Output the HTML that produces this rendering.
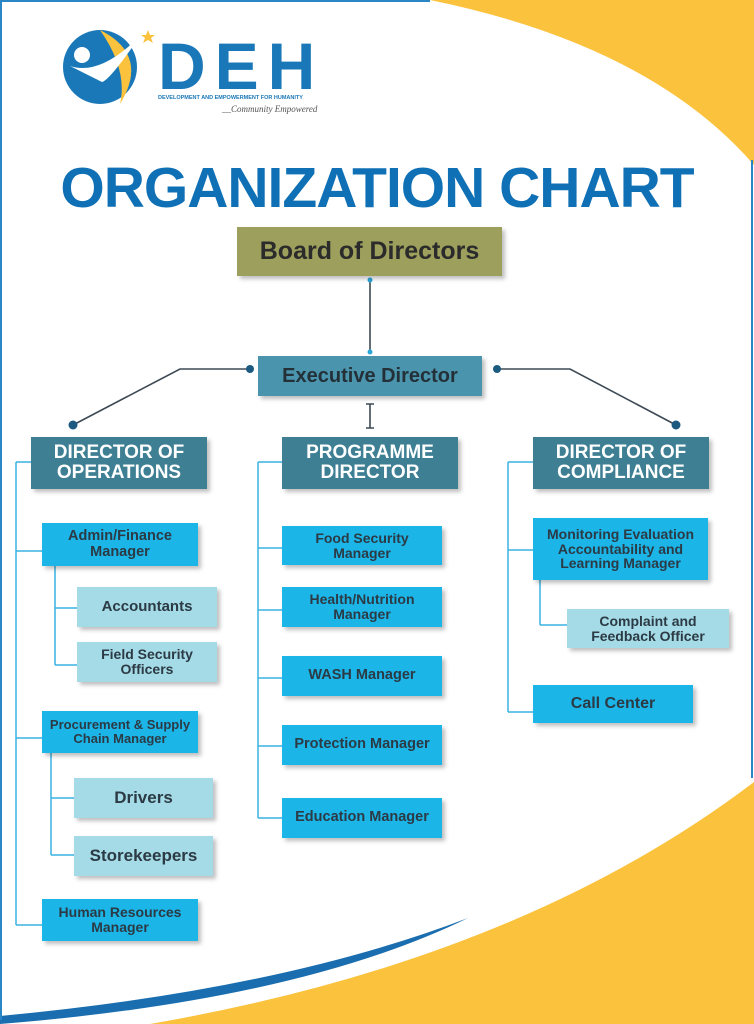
<!DOCTYPE html>
<html><head><meta charset="utf-8"><style>
*{margin:0;padding:0;box-sizing:border-box}
body{width:754px;height:1024px;position:relative;overflow:hidden;background:#fff;font-family:"Liberation Sans",sans-serif}
svg.bg{position:absolute;left:0;top:0}
.b{position:absolute;display:flex;align-items:center;justify-content:center;text-align:center;font-weight:bold;color:#2b3a44;box-shadow:3px 3px 4px rgba(0,0,0,.25);line-height:1.05}
.d{background:#3e7f94;color:#fff;font-size:19px}
.m{background:#1cb5e8;font-size:14.5px}
.s{background:#a5dbe6;font-size:15px}
</style></head><body>
<svg class="bg" width="754" height="1024">
<path d="M430 0 Q650 45 754 165 L754 0Z" fill="#fbc23d"/>
<path d="M150 1024 Q520 960 754 782 L754 1024Z" fill="#fbc23d"/>
<path d="M0 1016 Q280 990 468 918 Q300 1000 0 1024Z" fill="#1a6eaf"/>
<path d="M0 1 L430 1" stroke="#2a86c4" stroke-width="2"/>
<path d="M1 0 L1 1020" stroke="#2a86c4" stroke-width="2"/>
<path d="M752 160 L752 778" stroke="#2a86c4" stroke-width="2"/>
<g stroke="#3d4a55" stroke-width="1.6" fill="none">
<path d="M370 280 L370 352"/>
<path d="M250 369 L180 369 L73 425"/>
<path d="M497 369 L570 369 L676 425"/>
<path d="M370 404 L370 428 M366 404 L374 404 M366 428 L374 428"/>
</g>
<g fill="#1d5a80"><circle cx="250" cy="369" r="4"/><circle cx="73" cy="425" r="4.5"/><circle cx="497" cy="369" r="4"/><circle cx="676" cy="425" r="4.5"/></g>
<circle cx="370" cy="280" r="2.5" fill="#2aa6d8"/><circle cx="370" cy="352" r="2.5" fill="#2aa6d8"/>
<g stroke="#39b2e0" stroke-width="1.5" fill="none">
<path d="M16 462 L16 925 M16 462 L31 462 M16 551 L42 551 M16 738 L42 738 M16 925 L42 925"/>
<path d="M55 566 L55 665 M55 608 L78 608 M55 665 L78 665"/>
<path d="M51 753 L51 855 M51 798 L74 798 M51 855 L74 855"/>
<path d="M258 462 L258 818 M258 462 L282 462 M258 548 L282 548 M258 610 L282 610 M258 678 L282 678 M258 746 L282 746 M258 818 L282 818"/>
<path d="M508 462 L508 712 M508 462 L533 462 M508 550 L533 550 M508 712 L533 712"/>
<path d="M540 580 L540 625 M540 625 L582 625"/>
</g>
<circle cx="100" cy="67" r="37" fill="#1a78b8"/>
<path d="M100 30 Q150 55 120 104 Q128 70 100 30Z" fill="#fbc23d"/>
<circle cx="82" cy="55" r="8" fill="#fff"/>
<path d="M70 66 Q100 76 140 36 Q110 80 102 82 Z" fill="#fff"/>
<path d="M148 30 l2 5 5 0 -4 3 2 5 -5 -3 -5 3 2 -5 -4 -3 5 0z" fill="#fbc23d"/>
</svg>
<div style="position:absolute;left:158px;top:32px;font-size:66px;font-weight:bold;color:#1a78b8;letter-spacing:9px;line-height:68px">DEH</div>
<div style="position:absolute;left:158px;top:95px;font-size:5.5px;font-weight:bold;color:#1a78b8">DEVELOPMENT AND EMPOWERMENT FOR HUMANITY</div>
<div style="position:absolute;left:222px;top:104px;font-size:9px;font-style:italic;color:#555;font-family:'Liberation Serif',serif">__Community Empowered</div>
<div style="position:absolute;left:0;width:754px;top:156px;text-align:center;font-size:57px;font-weight:bold;color:#0f70b5;letter-spacing:-1px;line-height:64px">ORGANIZATION CHART</div>
<div class="b" style="left:237px;top:227px;width:265px;height:49px;background:#9d9f5c;font-size:25px;color:#2b2b2b">Board of Directors</div>
<div class="b" style="left:258px;top:356px;width:224px;height:40px;background:#4a95ad;font-size:20px;color:#243038">Executive Director</div>
<div class="b d" style="left:31px;top:437px;width:176px;height:52px">DIRECTOR OF<br>OPERATIONS</div>
<div class="b d" style="left:282px;top:437px;width:176px;height:52px">PROGRAMME<br>DIRECTOR</div>
<div class="b d" style="left:533px;top:437px;width:176px;height:52px">DIRECTOR OF<br>COMPLIANCE</div>
<div class="b m" style="left:42px;top:523px;width:156px;height:43px">Admin/Finance<br>Manager</div>
<div class="b s" style="left:77px;top:587px;width:140px;height:40px">Accountants</div>
<div class="b s" style="left:77px;top:642px;width:140px;height:40px;font-size:14px">Field Security<br>Officers</div>
<div class="b m" style="left:42px;top:711px;width:156px;height:42px;font-size:13px">Procurement &amp; Supply<br>Chain Manager</div>
<div class="b s" style="left:74px;top:778px;width:139px;height:40px;font-size:17px">Drivers</div>
<div class="b s" style="left:74px;top:836px;width:139px;height:40px;font-size:17px">Storekeepers</div>
<div class="b m" style="left:42px;top:899px;width:156px;height:42px;font-size:14px">Human Resources<br>Manager</div>
<div class="b m" style="left:282px;top:526px;width:160px;height:39px;font-size:14px">Food Security<br>Manager</div>
<div class="b m" style="left:282px;top:587px;width:160px;height:40px;font-size:14px">Health/Nutrition<br>Manager</div>
<div class="b m" style="left:282px;top:656px;width:160px;height:40px">WASH Manager</div>
<div class="b m" style="left:282px;top:725px;width:160px;height:40px">Protection Manager</div>
<div class="b m" style="left:282px;top:798px;width:160px;height:40px">Education Manager</div>
<div class="b m" style="left:533px;top:518px;width:175px;height:62px;font-size:14px">Monitoring Evaluation<br>Accountability and<br>Learning Manager</div>
<div class="b s" style="left:567px;top:609px;width:162px;height:39px;font-size:14px">Complaint and<br>Feedback Officer</div>
<div class="b m" style="left:533px;top:685px;width:160px;height:38px;font-size:16px">Call Center</div>
</body></html>
